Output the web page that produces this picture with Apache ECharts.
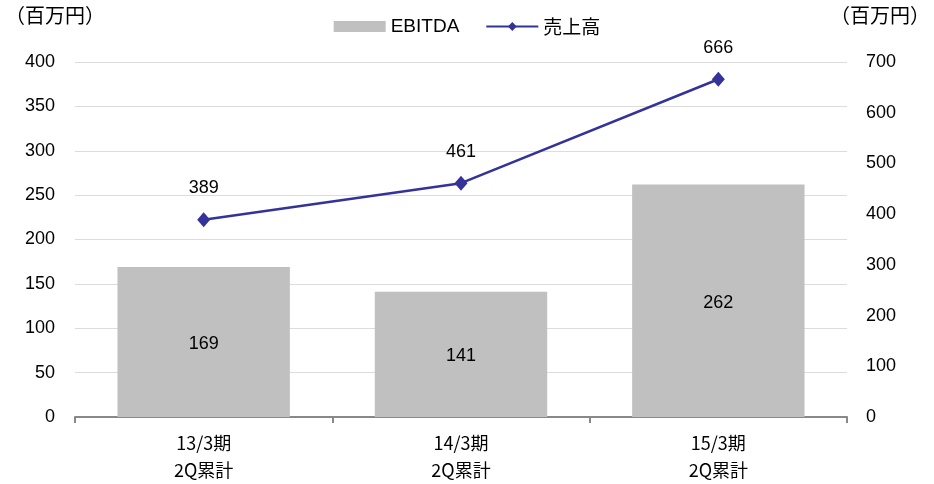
<!DOCTYPE html>
<html>
<head>
<meta charset="utf-8">
<style>html,body{margin:0;padding:0;background:#fff}#c{width:934px;height:484px}</style>
<script src="https://cdn.jsdelivr.net/npm/echarts@6/dist/echarts.min.js"></script>
</head>
<body>
<div id="c"></div>
<script>
const categories = ['13/3期\n2Q累計', '14/3期\n2Q累計', '15/3期\n2Q累計'];
const ebitda = [169, 141, 262];
const sales = [389, 461, 666];
const leftTicks = [0, 400, 50];
const rightTicks = [0, 700, 100];

const chart = echarts.init(document.getElementById('c'));
const numFont = 'Liberation Sans, Arial, sans-serif';
const jpFont = 'Noto Sans CJK JP, sans-serif';

chart.setOption({
  animation: false,
  textStyle: { fontFamily: numFont },
  grid: { left: 75, right: 87, top: 62, bottom: 66 },
  legend: {
    top: 12,
    left: 'center',
    itemWidth: 52,
    itemHeight: 11,
    itemGap: 26,
    textStyle: { fontSize: 19, color: '#000', fontFamily: numFont },
    data: [{ name: 'EBITDA', icon: 'rect' }, { name: '売上高', textStyle: { fontFamily: jpFont, fontSize: 19 } }]
  },
  graphic: [
    { type: 'text', left: 5, top: 5, style: { text: '（百万円）', font: '20px ' + jpFont, fill: '#000' } },
    { type: 'text', right: 4, top: 5, style: { text: '（百万円）', font: '20px ' + jpFont, fill: '#000' } }
  ],
  xAxis: {
    type: 'category',
    data: categories,
    axisLine: { lineStyle: { color: '#888', width: 2 } },
    axisTick: { show: true, length: 6, lineStyle: { color: '#888', width: 2 } },
    axisLabel: { color: '#000', fontSize: 18, fontFamily: jpFont, lineHeight: 27, margin: 13 }
  },
  yAxis: [
    {
      type: 'value', min: leftTicks[0], max: leftTicks[1], interval: leftTicks[2],
      axisLine: { show: false }, axisTick: { show: false },
      splitLine: { lineStyle: { color: '#dcdcdc' } },
      axisLabel: { color: '#000', fontSize: 18, margin: 20 }
    },
    {
      type: 'value', min: rightTicks[0], max: rightTicks[1], interval: rightTicks[2],
      axisLine: { show: false }, axisTick: { show: false },
      splitLine: { show: false },
      axisLabel: { color: '#000', fontSize: 18, margin: 19 }
    }
  ],
  series: [
    {
      name: 'EBITDA', type: 'bar', data: ebitda, yAxisIndex: 0,
      barCategoryGap: '33%',
      itemStyle: { color: '#c0c0c0' },
      label: { show: true, position: 'inside', color: '#000', fontSize: 18, offset: [0, 2] }
    },
    {
      name: '売上高', type: 'line', data: sales, yAxisIndex: 1,
      symbol: 'diamond', symbolSize: [13, 15],
      lineStyle: { color: '#33339a', width: 2.5 },
      itemStyle: { color: '#33339a' },
      label: { show: true, position: 'top', distance: 15, color: '#000', fontSize: 18 }
    }
  ]
});
</script>
</body>
</html>
